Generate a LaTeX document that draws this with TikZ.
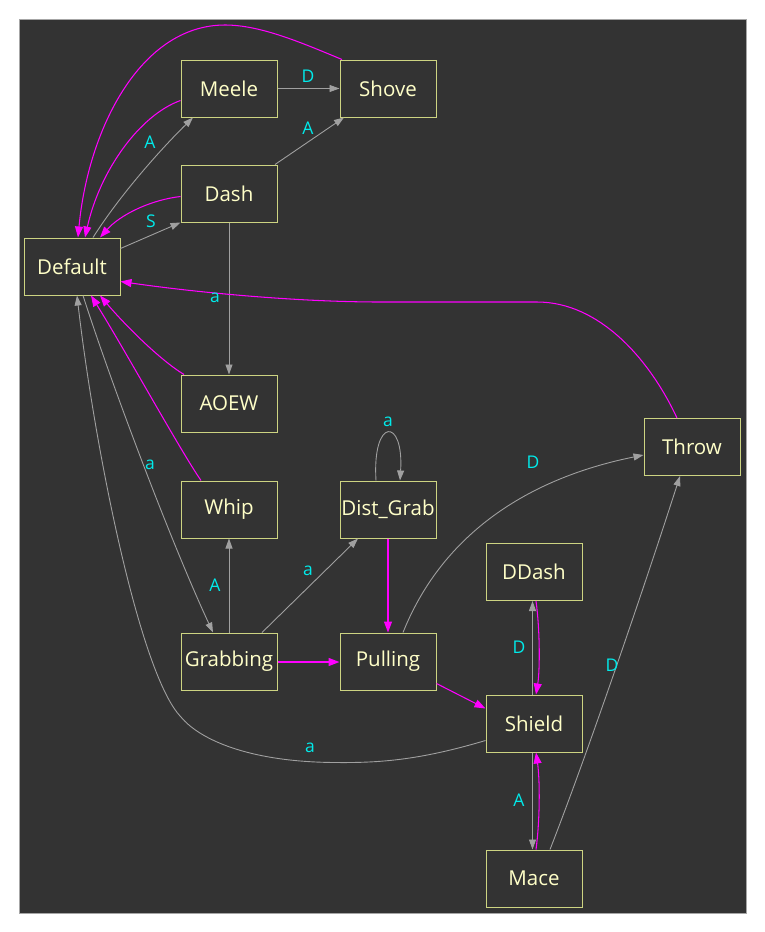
\documentclass[tikz,border=0pt]{standalone}
\usepackage{fontspec}
\setmainfont{Open Sans}
\usetikzlibrary{arrows.meta}
\definecolor{bgc}{RGB}{51,51,51}
\definecolor{bordc}{RGB}{205,212,130}
\definecolor{txtc}{RGB}{255,255,200}
\definecolor{edgec}{RGB}{160,160,160}
\definecolor{magc}{RGB}{255,0,255}
\definecolor{lblc}{RGB}{0,235,235}
\tikzset{
  state/.style={draw=bordc, line width=1pt, minimum width=96pt, minimum height=57pt, inner sep=0pt, text=txtc, font=\fontsize{20.5}{21}\selectfont},
  ge/.style={draw=edgec, line width=0.9pt, -{Triangle[length=10pt,width=7pt]}},
  me/.style={draw=magc, line width=1.05pt, -{Triangle[length=11pt,width=8pt]}},
  lbl/.style={text=lblc, inner sep=0pt, font=\fontsize{17.5}{18}\selectfont}
}
\begin{document}
\begin{tikzpicture}[x=1pt,y=-1pt]
\useasboundingbox (0,0) rectangle (765,932);
\fill[bgc] (19,19) rectangle (746,913);
\draw[gray!70, line width=0.6pt] (19,19) rectangle (746,913);
% nodes
\node[state] (Meele) at (229,88.5) {Meele};
\node[state] (Shove) at (388,88.5) {Shove};
\node[state] (Dash) at (229,193.5) {Dash};
\node[state] (Default) at (72,266.5) {Default};
\node[state] (AOEW) at (229,403.5) {AOEW};
\node[state] (Whip) at (229,509.5) {Whip};
\node[state] (DistGrab) at (388,509.5) {Dist\_Grab};
\node[state] (Throw) at (692,447) {Throw};
\node[state] (DDash) at (534,572) {DDash};
\node[state] (Grabbing) at (229,661.5) {Grabbing};
\node[state] (Pulling) at (388,661.5) {Pulling};
\node[state] (Shield) at (534,723.5) {Shield};
\node[state] (Mace) at (534,878.5) {Mace};
% gray edges
\draw[ge] ([xshift=21pt]Default.north) .. controls (120,195) and (160,150) .. ([xshift=-36pt]Meele.south);
\draw[ge] (Meele) -- (Shove);
\draw[ge] ([xshift=46pt]Dash.north) -- ([xshift=-44pt]Shove.south);
\draw[ge] ([yshift=18pt]Default.east) -- (Dash.south west);
\draw[ge] (Dash) -- (AOEW);
\draw[ge] ([xshift=11pt]Default.south) .. controls (110,380) and (170,540) .. ([xshift=-16pt]Grabbing.north);
\draw[ge] (Grabbing) -- (Whip);
\draw[ge] ([xshift=33pt]Grabbing.north) -- ([xshift=-30pt]DistGrab.south);
\draw[ge] ([xshift=-12pt]DistGrab.north) .. controls (372,417) and (404,417) .. ([xshift=12pt]DistGrab.north);
\draw[ge] ([xshift=15pt]Pulling.north) .. controls (440,540) and (520,480) .. ([yshift=-8pt]Throw.west);
\draw[ge] ([xshift=-1.5pt]Shield.north) -- ([xshift=-1.5pt]DDash.south);
\draw[ge] ([yshift=-17pt]Shield.west) .. controls (420,760) and (380,763) .. (335,762.5) .. controls (250,762) and (200,740) .. (181,717) .. controls (140,675) and (95,450) .. ([xshift=5pt]Default.south);
\draw[ge] ([xshift=-1.5pt]Shield.south) -- ([xshift=-1.5pt]Mace.north);
\draw[ge] ([xshift=16pt]Mace.north) .. controls (585,760) and (640,600) .. ([xshift=-12pt]Throw.south);
% magenta edges
\draw[me] ([yshift=-12pt]Meele.west) .. controls (140,115) and (100,170) .. ([xshift=13pt]Default.north);
\draw[me] ([xshift=-46pt]Shove.north) .. controls (300,42) and (260,25) .. (225,25) .. controls (140,25) and (88,130) .. ([xshift=6pt]Default.north);
\draw[me] ([yshift=-3pt]Dash.west) .. controls (150,200) and (120,215) .. ([xshift=28pt]Default.north);
\draw[me] ([xshift=-15pt]Throw.north) .. controls (650,360) and (600,302) .. (537,302) -- (380,302) .. controls (300,302) and (200,293) .. ([yshift=-15pt]Default.east);
\draw[me] ([xshift=-45pt]AOEW.north) .. controls (160,360) and (125,325) .. ([xshift=28pt]Default.south);
\draw[me] ([xshift=-28pt]Whip.north) .. controls (180,450) and (125,350) .. ([xshift=19pt]Default.south);
\draw[me] (DistGrab) -- (Pulling);
\draw[me, line width=1.3pt] ([yshift=-0.5pt]Grabbing.east) -- ([yshift=-0.5pt]Pulling.west);
\draw[me] ([yshift=-22pt]Pulling.east) -- ([yshift=15pt]Shield.west);
\draw[me] ([xshift=2pt]DDash.south) .. controls (540,630) and (540,670) .. ([xshift=2pt]Shield.north);
\draw[me] ([xshift=2pt]Mace.north) .. controls (540,820) and (540,780) .. ([xshift=2pt]Shield.south);
% labels
\node[lbl] (l1) at (308,76) {D};
\node[lbl] (l2) at (150,142) {A};
\node[lbl] (l3) at (308,128) {A};
\node[lbl] (l4) at (151,221) {S};
\node[lbl] (l5) at (215,298) {a};
\node[lbl] (l6) at (150,465) {a};
\node[lbl] (l7) at (215,585) {A};
\node[lbl] (l8) at (308,571) {a};
\node[lbl] (l9) at (388,422) {a};
\node[lbl] (l10) at (533,462) {D};
\node[lbl] (l11) at (519,647) {D};
\node[lbl] (l12) at (612,665) {D};
\node[lbl] (l13) at (310,748) {a};
\node[lbl] (l14) at (519,800) {A};
\end{tikzpicture}
\end{document}
